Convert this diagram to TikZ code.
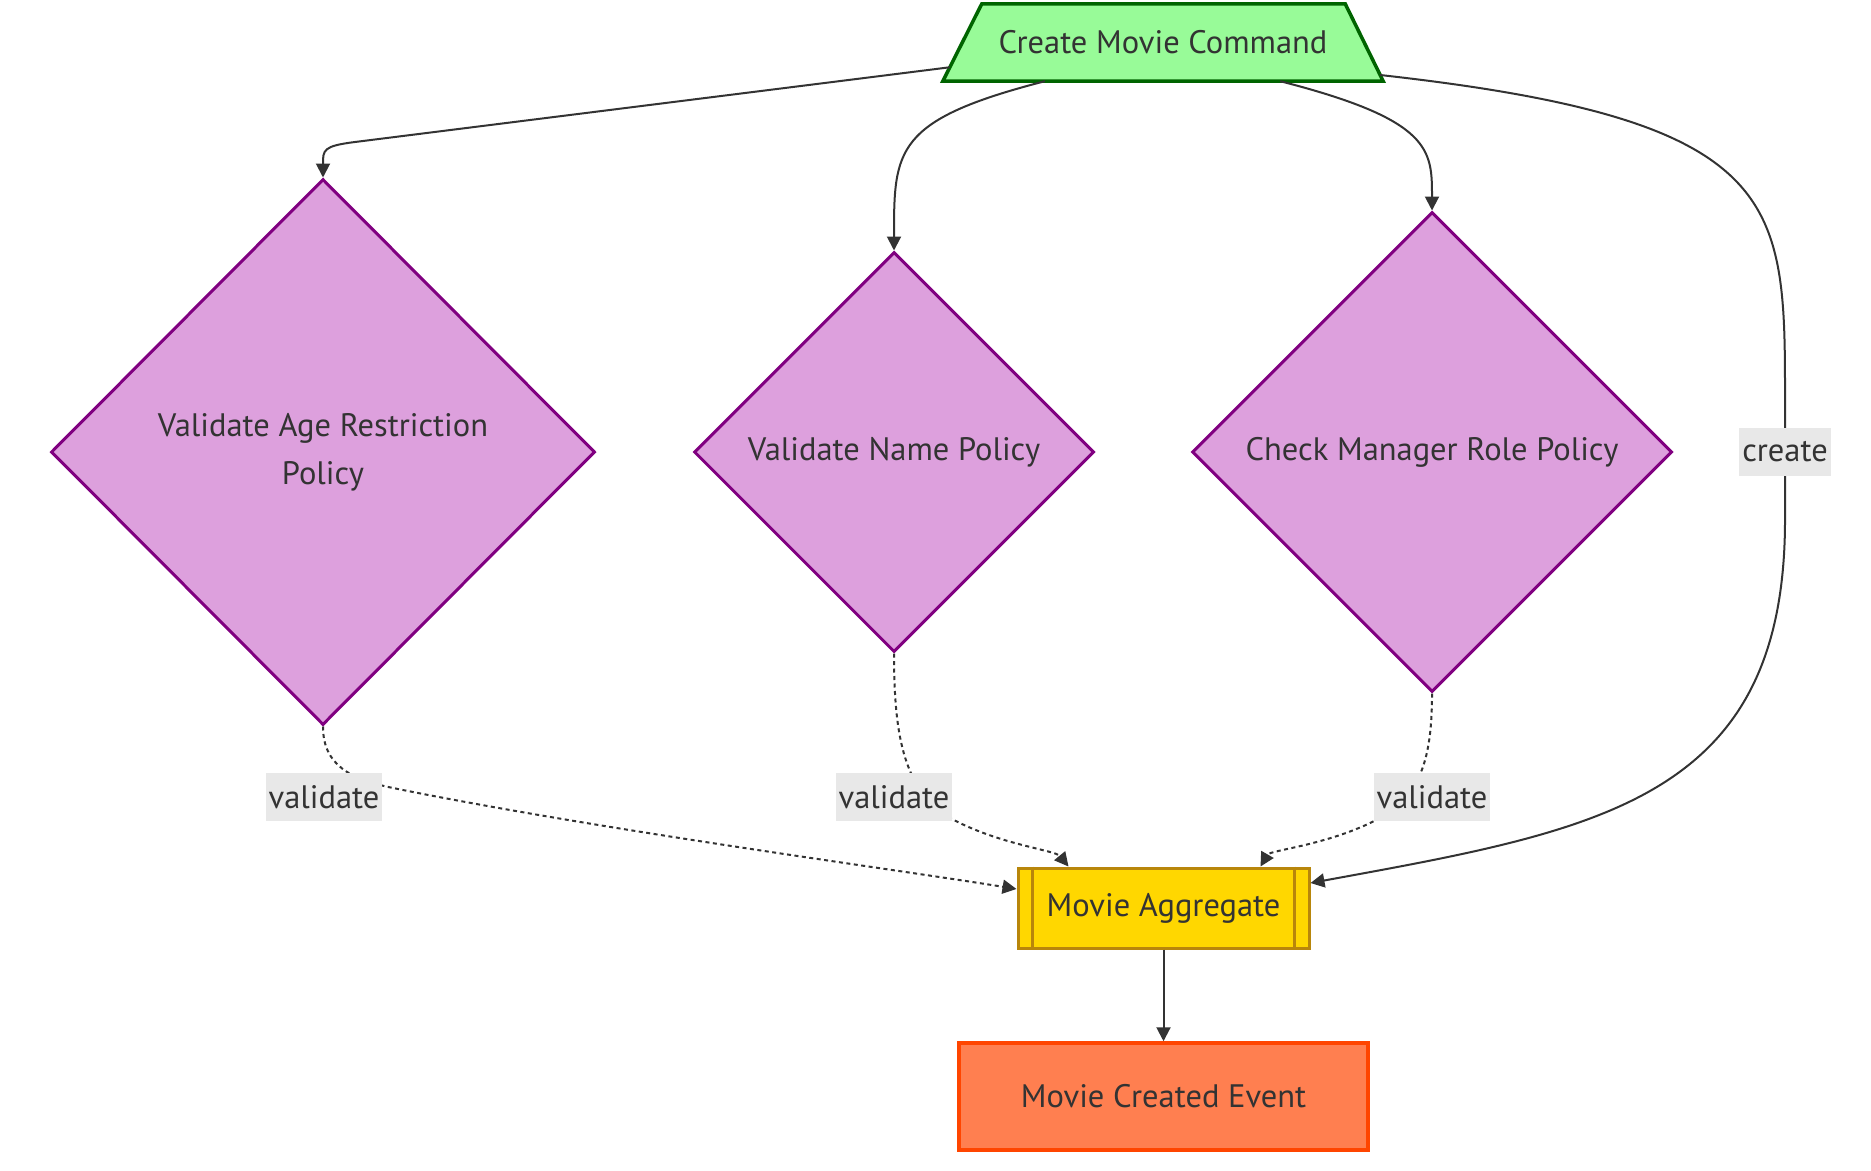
\documentclass[tikz,border=0pt]{standalone}
\usepackage{fontspec}
\setmainfont{PT Sans}
\usetikzlibrary{shapes.geometric,arrows.meta,calc}
\definecolor{txt}{HTML}{333333}
\definecolor{cmdfill}{HTML}{98FB98}
\definecolor{cmdline}{HTML}{006400}
\definecolor{polfill}{HTML}{DDA0DD}
\definecolor{polline}{HTML}{800080}
\definecolor{aggfill}{HTML}{FFD700}
\definecolor{aggline}{HTML}{B8860B}
\definecolor{evfill}{HTML}{FF7F50}
\definecolor{evline}{HTML}{FF4500}
\definecolor{lblbg}{HTML}{E8E8E8}
\tikzset{
  cmdbox/.style={rectangle, minimum width=440pt, minimum height=77pt, inner sep=0pt},
  cmdshape/.style={draw=cmdline, fill=cmdfill, line width=3.5pt, line join=miter},
  polbox/.style={diamond, aspect=1, inner sep=0pt, align=center,
    draw=polline, fill=polfill, line width=3pt},
  aggbox/.style={rectangle, minimum width=291pt, minimum height=80pt,
    draw=aggline, fill=aggfill, line width=3pt},
  evbox/.style={rectangle, minimum width=409pt, minimum height=107pt,
    draw=evline, fill=evfill, line width=3.5pt},
  lbl/.style={fill=lblbg, inner xsep=3pt, inner ysep=0pt, minimum height=48pt},
  conn/.style={draw=txt, line width=2pt, -{Triangle[length=14pt,width=14pt]}},
  dconn/.style={conn, dash pattern=on 4pt off 3.5pt}
}
\begin{document}
\begin{tikzpicture}[x=1pt, y=-1pt, font=\fontsize{32.5}{48}\selectfont, text=txt]
\useasboundingbox (0,0) rectangle (1871,1170);

\node[cmdbox] (cmd) at (1163,42.5) {};
\coordinate (cmdtl) at ([xshift=39pt]cmd.north west);
\coordinate (cmdtr) at ([xshift=-38pt]cmd.north east);
\draw[cmdshape] (cmd.south west) -- (cmdtl) -- (cmdtr) -- (cmd.south east) -- cycle;
\node[cmdbox] (cmdtext) at (cmd.center) {Create Movie Command};

\node[polbox, minimum width=544pt, minimum height=546pt] (pa) at (323,452) {Validate Age Restriction\\Policy};
\node[polbox, minimum width=400pt, minimum height=400pt] (pb) at (894,452) {Validate Name Policy};
\node[polbox, minimum width=480pt, minimum height=480pt] (pc) at (1432,452) {Check Manager Role Policy};
\node[aggbox] (agg) at (1163.5,908) {Movie Aggregate};
\draw[aggline, line width=3pt] ([xshift=16pt]agg.north west) -- ([xshift=16pt]agg.south west);
\draw[aggline, line width=3pt] ([xshift=-16pt]agg.north east) -- ([xshift=-16pt]agg.south east);
\node[evbox] (ev) at (1163.5,1096.5) {Movie Created Event};

% command to policies
\draw[conn] ($(cmd.south west)!0.18!(cmdtl)$) -- (355,142)
  .. controls (323,146) and (323,150) .. (pa.north);
\draw[conn] ($(cmd.south west)!0.232!(cmd.south east)$)
  .. controls (894,120) and (894,150) .. (pb.north);
\draw[conn] ($(cmd.south west)!0.766!(cmd.south east)$)
  .. controls (1432,120) and (1432,150) .. (pc.north);
% create
\draw[conn] ($(cmd.south east)!0.08!(cmdtr)$)
  .. controls (1785,120) and (1785,200) .. (1785,400) -- (1785,520)
  .. controls (1785,800) and (1600,830) .. ($(agg.east)+(0,-25)$);
% validate edges
\draw[dconn] (pa.south) .. controls (323,765) and (350,779) .. (393,788)
  .. controls (600,830) and (900,870) .. ($(agg.west)+(0,-19)$);
\draw[dconn] (pb.south) .. controls (894,740) and (905,790) .. (950,818)
  .. controls (1000,845) and (1055,850) .. ($(agg.north)+(-95,0)$);
\draw[dconn] (pc.south) .. controls (1432,760) and (1420,795) .. (1380,818)
  .. controls (1330,845) and (1270,850) .. ($(agg.north)+(97,0)$);
\draw[conn] (agg.south) -- (ev.north);

% labels
\node[lbl] (la) at (324,797) {validate};
\node[lbl] (lb) at (894,797) {validate};
\node[lbl] (lc) at (1432,797) {validate};
\node[lbl] (lcr) at (1785,452) {create};
\end{tikzpicture}
\end{document}
